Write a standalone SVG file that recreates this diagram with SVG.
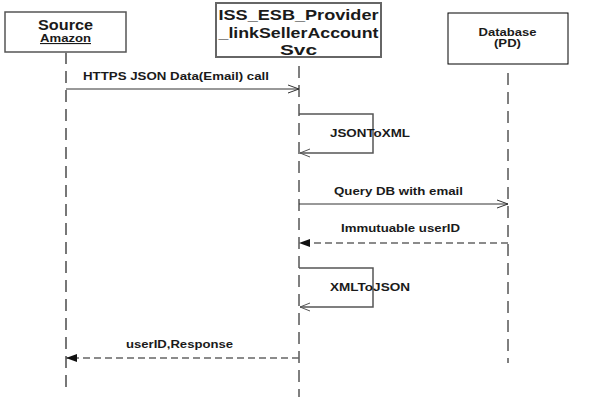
<svg xmlns="http://www.w3.org/2000/svg" width="596" height="410" viewBox="0 0 596 410">
<style>
text{font-family:"Liberation Sans",Arial,sans-serif;font-weight:bold;fill:#1a1a1a}
.box{fill:#fff}
.life{fill:none;stroke-dasharray:12 7}
.msg{fill:none;stroke:#333;stroke-width:1}
.ret{fill:none;stroke:#666;stroke-width:1.6;stroke-dasharray:7 4}
.self{fill:none;stroke:#555;stroke-width:1.5}
.lbl{font-size:11px}
</style>
<defs>
<marker id="open" markerWidth="12" markerHeight="10" refX="11" refY="5" orient="auto" markerUnits="userSpaceOnUse">
<path d="M0,1 L11,5 L0,9" fill="none" stroke="#333" stroke-width="1"/>
</marker>
<marker id="filled" markerWidth="12" markerHeight="10" refX="11" refY="5" orient="auto" markerUnits="userSpaceOnUse">
<path d="M0,1 L11,5 L0,9 Z" fill="#111" stroke="none"/>
</marker>
</defs>
<rect width="596" height="410" fill="#fff"/>
<g id="source">
<rect class="box" x="5" y="12" width="121" height="40" stroke="#555" stroke-width="1.5"/>
<text x="65.5" y="30" font-size="14" text-anchor="middle" textLength="55" lengthAdjust="spacingAndGlyphs">Source</text>
<text x="65.5" y="42" font-size="11" text-anchor="middle" textLength="51" lengthAdjust="spacingAndGlyphs" text-decoration="underline">Amazon</text>
<line class="life" x1="66" y1="52" x2="66" y2="391" stroke="#777" stroke-width="2"/>
</g>
<g id="provider">
<rect class="box" x="216" y="3" width="165" height="54" stroke="#666" stroke-width="2"/>
<text x="298.5" y="20" font-size="15" text-anchor="middle" textLength="160" lengthAdjust="spacingAndGlyphs">ISS_ESB_Provider</text>
<text x="298.5" y="38" font-size="15" text-anchor="middle" textLength="160" lengthAdjust="spacingAndGlyphs">_linkSellerAccount</text>
<text x="298.5" y="55" font-size="15" text-anchor="middle" textLength="37" lengthAdjust="spacingAndGlyphs">Svc</text>
<line class="life" x1="299" y1="66" x2="299" y2="397" stroke="#000" stroke-width="1"/>
</g>
<g id="database">
<rect class="box" x="448" y="13" width="120" height="51" stroke="#000" stroke-width="1"/>
<text x="507.5" y="36" font-size="11" text-anchor="middle" textLength="58" lengthAdjust="spacingAndGlyphs">Database</text>
<text x="507.5" y="47" font-size="11" text-anchor="middle" textLength="27" lengthAdjust="spacingAndGlyphs">(PD)</text>
<line class="life" x1="508" y1="73" x2="508" y2="363" stroke="#000" stroke-width="1"/>
</g>
<g id="connectors">
<line class="msg" x1="66" y1="89" x2="299" y2="89" marker-end="url(#open)"/>
<text class="lbl" x="83" y="80" textLength="186" lengthAdjust="spacingAndGlyphs">HTTPS JSON Data(Email) call</text>
<path class="self" d="M299,114 H373 V153 H300"/>
<path d="M310,149 L300,153 L310,157" fill="none" stroke="#555" stroke-width="1"/>
<text class="lbl" x="330" y="137" textLength="80" lengthAdjust="spacingAndGlyphs">JSONToXML</text>
<line class="msg" x1="299" y1="204" x2="508" y2="204" marker-end="url(#open)"/>
<text class="lbl" x="334" y="195" textLength="129" lengthAdjust="spacingAndGlyphs">Query DB with email</text>
<line class="ret" x1="508" y1="243" x2="299" y2="243" marker-end="url(#filled)"/>
<text class="lbl" x="341" y="232" textLength="119" lengthAdjust="spacingAndGlyphs">Immutuable userID</text>
<path class="self" d="M299,268 H373 V307 H300"/>
<path d="M310,303 L300,307 L310,311" fill="none" stroke="#555" stroke-width="1"/>
<text class="lbl" x="330" y="291" textLength="80" lengthAdjust="spacingAndGlyphs">XMLToJSON</text>
<line class="ret" x1="299" y1="358" x2="66" y2="358" marker-end="url(#filled)"/>
<text class="lbl" x="126" y="348" textLength="107" lengthAdjust="spacingAndGlyphs">userID,Response</text>
</g>
</svg>
